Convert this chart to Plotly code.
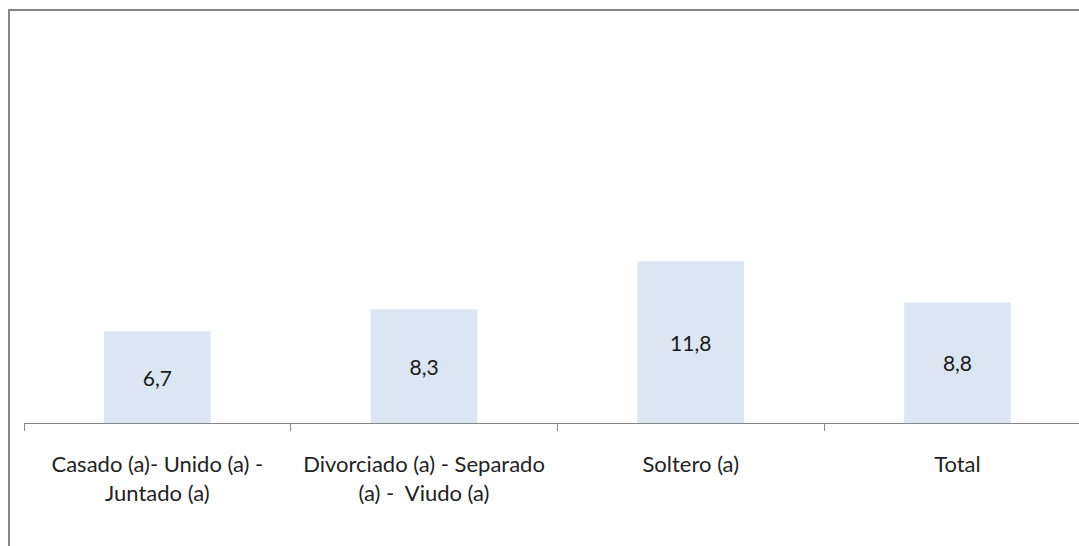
import plotly.graph_objects as go

categories = [
    "Casado (a)- Unido (a) -<br>Juntado (a)",
    "Divorciado (a) - Separado<br>(a) -  Viudo (a)",
    "Soltero (a)",
    "Total",
]
values = [6.7, 8.3, 11.8, 8.8]
value_labels = ["6,7", "8,3", "11,8", "8,8"]

W, H = 1079, 546
L, R, T, B = 24, 0, 12, 123
plot_w = W - L - R
plot_h = H - T - B

fig = go.Figure(
    go.Bar(
        x=categories,
        y=values,
        text=value_labels,
        textposition="inside",
        insidetextanchor="middle",
        textfont=dict(color="#1a1a1a", size=21),
        marker=dict(color="#DCE6F2", line=dict(width=0)),
        width=0.4,
        hoverinfo="skip",
    )
)

# Outer chart frame: top and left grey border.
px = lambda p: (p - L) / plot_w
py = lambda p: (H - B - p) / plot_h
fig.add_shape(type="line", xref="paper", yref="paper",
              x0=px(8), x1=px(W + 5), y0=py(10), y1=py(10),
              line=dict(color="#868686", width=2))
fig.add_shape(type="line", xref="paper", yref="paper",
              x0=px(9), x1=px(9), y0=py(10), y1=py(H + 5),
              line=dict(color="#868686", width=2))

fig.update_layout(
    width=W,
    height=H,
    margin=dict(l=L, r=R, t=T, b=B),
    paper_bgcolor="white",
    plot_bgcolor="white",
    showlegend=False,
    font=dict(family="Lato, sans-serif", color="#1a1a1a", size=21),
    uniformtext=dict(minsize=16, mode="show"),
    xaxis=dict(
        type="category",
        range=[-0.5, -0.5 + plot_w / 266.7],
        tickson="boundaries",
        ticks="outside",
        ticklen=7,
        tickcolor="#868686",
        showline=True,
        linecolor="#868686",
        linewidth=1,
        showgrid=False,
        ticklabelstandoff=22,
        tickfont=dict(size=22, color="#222222"),
    ),
    yaxis=dict(
        range=[0, plot_h / 13.7],
        visible=False,
        showgrid=False,
        zeroline=False,
    ),
)

fig.write_html(
    "out.html",
    config={"displayModeBar": False},
    post_script="document.body.style.margin='0';",
)
